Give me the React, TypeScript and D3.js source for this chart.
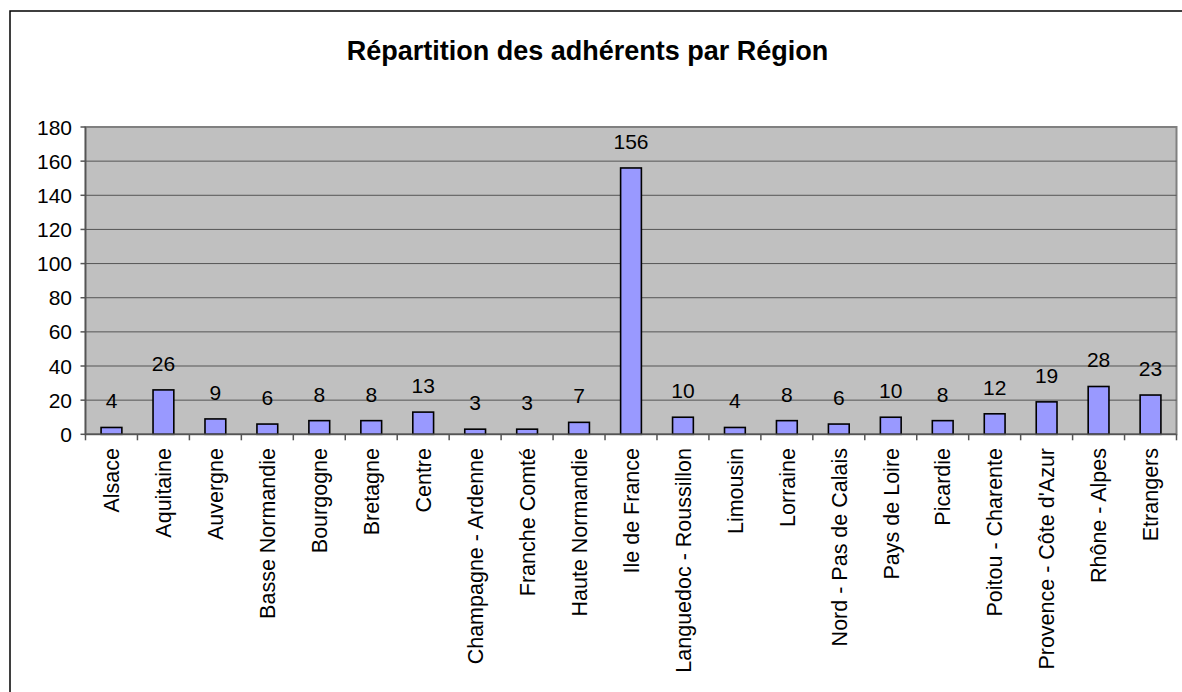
import React from "react";
import * as d3 from "d3";

const categories = [
  "Alsace", "Aquitaine", "Auvergne", "Basse Normandie", "Bourgogne", "Bretagne", "Centre",
  "Champagne - Ardenne", "Franche Comté", "Haute Normandie", "Ile de France",
  "Languedoc - Roussillon", "Limousin", "Lorraine", "Nord - Pas de Calais", "Pays de Loire",
  "Picardie", "Poitou - Charente", "Provence - Côte d'Azur", "Rhône - Alpes", "Etrangers",
];
const values = [4, 26, 9, 6, 8, 8, 13, 3, 3, 7, 156, 10, 4, 8, 6, 10, 8, 12, 19, 28, 23];
const yTicks = [0, 20, 40, 60, 80, 100, 120, 140, 160, 180];
const title = "Répartition des adhérents par Région";

const W = 1182, H = 692;
const plot = { left: 85.5, right: 1176.5, top: 127, bottom: 434.3 };
const font = "Arial, 'Liberation Sans', sans-serif";

export default function App() {
  const x = d3.scaleBand<string>().domain(categories).range([plot.left, plot.right]).paddingInner(0).paddingOuter(0);
  const y = d3.scaleLinear().domain([0, 180]).range([plot.bottom, plot.top]);
  const bw = x.bandwidth();
  const barW = bw * 0.4;
  return (
    <svg width={W} height={H} style={{ position: "absolute", left: 0, top: 0, display: "block" }}>
      <rect x={0} y={0} width={W} height={H} fill="#fff" />
      <rect x={10} y={11} width={W + 20} height={H + 20} fill="none" stroke="#000" strokeWidth={1.5} />
      <text x={587.5} y={60} textAnchor="middle" fontFamily={font} fontWeight="bold" fontSize={27}>{title}</text>
      <rect x={plot.left} y={plot.top} width={plot.right - plot.left} height={plot.bottom - plot.top} fill="#C0C0C0" stroke="#808080" strokeWidth={2} />
      {yTicks.filter(t => t > 0 && t < 180).map(t => (
        <line key={"g" + t} x1={plot.left} x2={plot.right} y1={y(t)} y2={y(t)} stroke="#555" strokeWidth={1} />
      ))}
      {values.map((v, i) => {
        const cx = x(categories[i])! + bw / 2;
        return (
          <g key={"b" + i}>
            <rect x={cx - barW / 2} y={y(v)} width={barW} height={plot.bottom - y(v)} fill="#9999FF" stroke="#000" strokeWidth={1.6} />
            <text x={cx} y={y(v) - 19} textAnchor="middle" fontFamily={font} fontSize={21}>{v}</text>
          </g>
        );
      })}
      <line x1={plot.left} x2={plot.left} y1={plot.top} y2={plot.bottom} stroke="#555" strokeWidth={1.5} />
      <line x1={plot.left} x2={plot.right} y1={plot.bottom} y2={plot.bottom} stroke="#555" strokeWidth={1.5} />
      {yTicks.map(t => (
        <g key={"t" + t}>
          <line x1={plot.left - 5} x2={plot.left} y1={y(t)} y2={y(t)} stroke="#555" strokeWidth={1.5} />
          <text x={72} y={y(t)} dy="0.36em" textAnchor="end" fontFamily={font} fontSize={21}>{t}</text>
        </g>
      ))}
      {categories.map((c, i) => (
        <line key={"xt" + i} x1={x(c)!} x2={x(c)!} y1={plot.bottom} y2={plot.bottom + 6} stroke="#555" strokeWidth={1.5} />
      ))}
      <line x1={plot.right} x2={plot.right} y1={plot.bottom} y2={plot.bottom + 6} stroke="#555" strokeWidth={1.5} />
      {categories.map((c, i) => {
        const cx = x(c)! + bw / 2;
        return (
          <text key={"l" + i} transform={`translate(${cx},448) rotate(-90)`} dy="0.36em" textAnchor="end" fontFamily={font} fontSize={21.5}>{c}</text>
        );
      })}
    </svg>
  );
}
